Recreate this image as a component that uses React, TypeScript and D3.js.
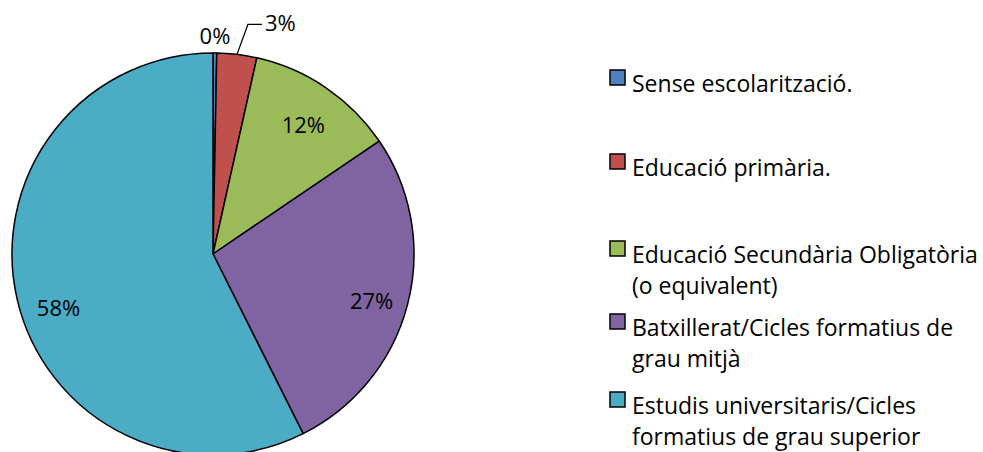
import React from "react";
import * as d3 from "d3";

const categories = [
  "Sense escolarització.",
  "Educació primària.",
  "Educació Secundària Obligatòria (o equivalent)",
  "Batxillerat/Cicles formatius de grau mitjà",
  "Estudis universitaris/Cicles formatius de grau superior",
];
const legendLines = [
  ["Sense escolarització."],
  ["Educació primària."],
  ["Educació Secundària Obligatòria", "(o equivalent)"],
  ["Batxillerat/Cicles formatius de", "grau mitjà"],
  ["Estudis universitaris/Cicles", "formatius de grau superior"],
];
const values = [0.3, 3.2, 12.0, 27.1, 57.4];
const pctLabels = ["0%", "3%", "12%", "27%", "58%"];
const colors = ["#4F81BD", "#C0504D", "#9BBB59", "#8064A2", "#4BACC6"];

const W = 983;
const H = 452;
const FONT = "'Open Sans', 'Noto Sans', sans-serif";
const labelNudge = [
  [0, 0],
  [0, 0],
  [0, 4],
  [3, 7],
  [2, 17],
];

export default function App() {
  const cx = 213;
  const cy = 254;
  const r = 201;
  const pie = d3.pie<number>().sort(null).value((d) => d);
  const arcs = pie(values);
  const arc = d3.arc<d3.PieArcDatum<number>>().innerRadius(0).outerRadius(r);
  const labelArc = d3
    .arc<d3.PieArcDatum<number>>()
    .innerRadius(r * 0.8)
    .outerRadius(r * 0.8);

  const legendTop = [70, 154, 241, 314, 392];
  const lineH = 31;
  const pctSize = 22;
  const legSize = 23;

  return (
    <svg width={W} height={H} style={{ position: "absolute", left: 0, top: 0 }}>
      <g transform={`translate(${cx},${cy})`}>
        {arcs.map((a, i) => (
          <path
            key={i}
            d={arc(a) || ""}
            fill={colors[i]}
            stroke="#000"
            strokeWidth={1.5}
            strokeLinejoin="round"
          />
        ))}
        {arcs.map((a, i) => {
          if (i === 0) {
            const mid = (a.startAngle + a.endAngle) / 2;
            const x = Math.sin(mid) * (r + 9);
            const y = -Math.cos(mid) * (r + 9);
            return (
              <text
                key={i}
                x={x}
                y={y}
                textAnchor="middle"
                fontFamily={FONT}
                fontSize={pctSize}
                fill="#000"
              >
                {pctLabels[i]}
              </text>
            );
          }
          if (i === 1) {
            const mid = (a.startAngle + a.endAngle) / 2;
            const x0 = Math.sin(mid) * r;
            const y0 = -Math.cos(mid) * r;
            const x1 = x0 + 11;
            const y1 = y0 - 30;
            const x2 = x1 + 14;
            return (
              <g key={i}>
                <polyline
                  points={`${x0},${y0} ${x1},${y1} ${x2},${y1}`}
                  fill="none"
                  stroke="#000"
                  strokeWidth={1.2}
                />
                <text
                  x={x2 + 3}
                  y={y1 + 7}
                  fontFamily={FONT}
                  fontSize={pctSize}
                  fill="#000"
                >
                  {pctLabels[i]}
                </text>
              </g>
            );
          }
          const [x, y] = labelArc.centroid(a);
          return (
            <text
              key={i}
              x={x + labelNudge[i][0]}
              y={y + labelNudge[i][1]}
              dy="0.35em"
              textAnchor="middle"
              fontFamily={FONT}
              fontSize={pctSize}
              fill="#000"
            >
              {pctLabels[i]}
            </text>
          );
        })}
      </g>
      <g>
        {categories.map((c, i) => (
          <g key={c}>
            <rect
              x={610}
              y={legendTop[i]}
              width={15}
              height={15}
              fill={colors[i]}
              stroke="#000"
              strokeWidth={1.5}
            />
            {legendLines[i].map((ln, j) => (
              <text
                key={j}
                x={632}
                y={legendTop[i] + 22 + j * lineH}
                fontFamily={FONT}
                fontSize={legSize}
                fill="#000"
              >
                {ln}
              </text>
            ))}
          </g>
        ))}
      </g>
    </svg>
  );
}
